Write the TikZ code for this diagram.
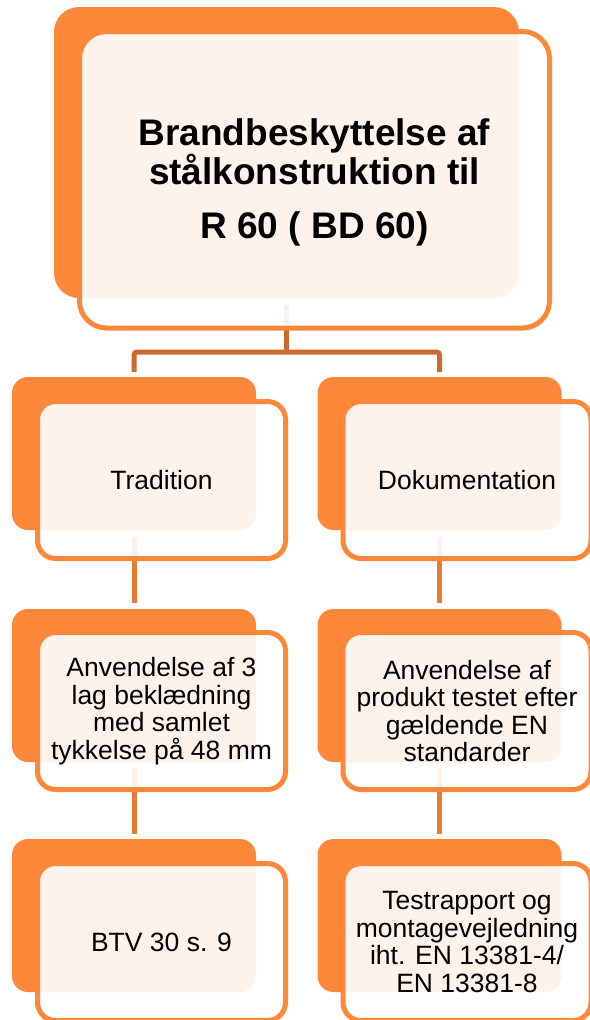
\documentclass[tikz,border=0pt]{standalone}
\usepackage{fontspec}
\setmainfont{Liberation Sans}
\definecolor{orA}{RGB}{253,136,57}
\definecolor{connU}{RGB}{204,106,46}
\definecolor{connL}{RGB}{234,122,50}
\pgfdeclarelayer{bg}
\pgfsetlayers{bg,main}
\begin{document}
\begin{tikzpicture}[x=1pt,y=-1pt,
  backbig/.style={fill=orA, draw=none, rounded corners=25pt, minimum width=465pt, minimum height=291pt, inner sep=0pt, outer sep=0pt},
  frontbig/.style={draw=orA, line width=5pt, fill=white, fill opacity=0.9, text opacity=1, rounded corners=27pt, minimum width=470pt, minimum height=296.5pt, inner sep=0pt, outer sep=0pt, align=center, font=\bfseries\fontsize{37}{38}\selectfont},
  backsm/.style={fill=orA, draw=none, rounded corners=16pt, minimum width=244pt, minimum height=153pt, inner sep=0pt, outer sep=0pt},
  frontsm/.style={draw=orA, line width=5pt, fill=white, fill opacity=0.9, text opacity=1, rounded corners=18pt, minimum width=248pt, minimum height=157pt, inner sep=0pt, outer sep=0pt, align=center, font=\fontsize{26.5}{27.5}\selectfont},
  upline/.style={draw=connU, line width=5pt},
  lowline/.style={draw=connL, line width=5pt}
]
\useasboundingbox (0,0) rectangle (589,1020);
\coordinate (barlevel) at (0,352);

% top
\node[backbig] (topback) at (286.5,152.5) {};
\node[frontbig] (top) at (314.5,179.75) {\rule{0pt}{33pt}Brandbeskyttelse af\\stålkonstruktion til\\[16pt]R 60 ( BD 60)};

% row 1
\node[backsm] (l1back) at (134,453.5) {};
\node[frontsm] (l1) at (161.5,480) {Tradition};
\node[backsm] (r1back) at (439.5,453.5) {};
\node[frontsm] (r1) at (467,480) {Dokumentation};

% row 2
\node[backsm] (l2back) at (134,685.5) {};
\node[frontsm] (l2) at (161.5,711) {Anvendelse af 3\\lag beklædning\\med samlet\\tykkelse på 48 mm};
\node[backsm] (r2back) at (439.5,685.5) {};
\node[frontsm] (r2) at (467,711) {Anvendelse af\\produkt testet efter\\gældende EN\\standarder};

% row 3
\node[backsm] (l3back) at (134,915.5) {};
\node[frontsm] (l3) at (161.5,942) {BTV 30 s. 9};
\node[backsm] (r3back) at (439.5,915.5) {};
\node[frontsm] (r3) at (467,942) {Testrapport og\\montagevejledning\\iht. EN 13381-4/\\EN 13381-8};

\begin{pgfonlayer}{bg}
\draw[upline] ([yshift=-7pt]topback.south) -- (topback.south |- barlevel);
\draw[upline, rounded corners=3pt] ([yshift=5pt]l1back.north) -- (l1back.north |- barlevel) -- (r1back.north |- barlevel) -- ([yshift=5pt]r1back.north);
\draw[lowline] ([yshift=-7pt]l1back.south) -- ([yshift=6pt]l2back.north);
\draw[lowline] ([yshift=-7pt]r1back.south) -- ([yshift=6pt]r2back.north);
\draw[lowline] ([yshift=-6pt]l2back.south) -- ([yshift=5pt]l3back.north);
\draw[lowline] ([yshift=-6pt]r2back.south) -- ([yshift=5pt]r3back.north);
\end{pgfonlayer}
\end{tikzpicture}
\end{document}
